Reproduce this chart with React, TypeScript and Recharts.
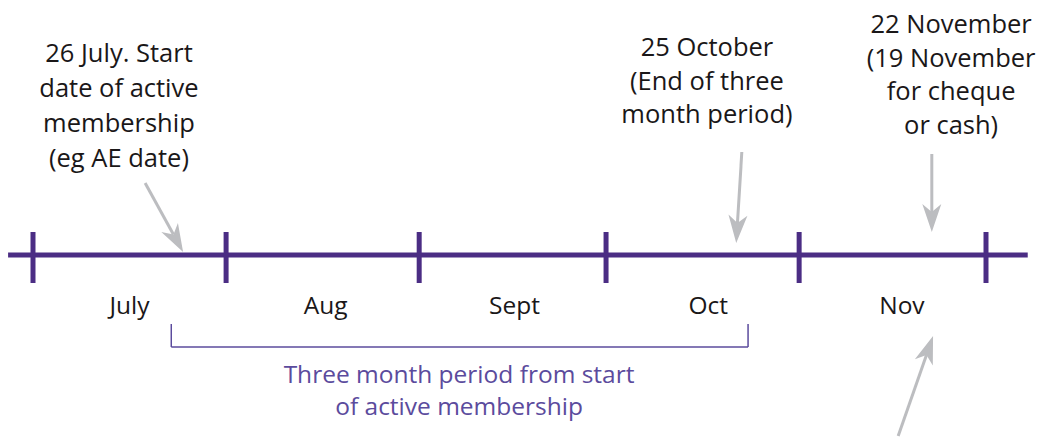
import React from 'react';
import { ComposedChart, XAxis, YAxis, ReferenceLine, Scatter } from 'recharts';

// Horizontal axis: days since 1 July. Vertical axis: layout rows (top = 0).
const monthStartDays = [0, 31, 62, 92, 123, 153];
const monthNames = ['July', 'Aug', 'Sept', 'Oct', 'Nov'];
const monthLabelDays = [15.5, 47, 77.3, 108.4, 139.5];
const timelineSpan = [-4, 159.7];

// annotations (text centre day, first line row, lines)
const noteDays = [13.8, 108.2, 147.4];
const noteRows = [52, 46, 23];
const noteLines = [
  ['26 July. Start', 'date of active', 'membership', '(eg AE date)'],
  ['25 October', '(End of three', 'month period)'],
  ['22 November', '(19 November', 'for cheque', 'or cash)'],
];
const noteLineGap = [35, 33.5, 33.5];

// arrows: [fromDay, fromRow, toDay, toRow]
const arrowFromDays = [18.0, 113.8, 144.3, 138.9];
const arrowFromRows = [183, 152, 154, 436];
const arrowToDays = [24.1, 112.9, 144.3, 144.5];
const arrowToRows = [252, 243, 232, 336];

// three month bracket
const bracketDays = [22.2, 114.8];
const bracketRows = [324, 347];
const periodTextDay = 68.4;
const periodLines = ['Three month period from start', 'of active membership'];
const periodRows = [373, 405];

const timelineRow = 255;
const tickRows = [232, 283];
const monthLabelRow = 304;

const W = 1039;
const H = 437;
const PX_PER_DAY = (986 - 33) / 153;
const xDomain: [number, number] = [-33 / PX_PER_DAY, (W - 33) / PX_PER_DAY];

const PURPLE = '#4b2d84';
const GREY = '#bcbdc0';
const TEXT = '#1a1718';
const LIGHT_PURPLE = '#5b4b9d';
const FONT = '"Open Sans", Lato, sans-serif';

const ArrowShape = (props: any) => {
  const { x1, y1, x2, y2 } = props;
  const dx = x2 - x1;
  const dy = y2 - y1;
  const len = Math.sqrt(dx * dx + dy * dy);
  const ux = dx / len;
  const uy = dy / len;
  const px = -uy;
  const py = ux;
  const headLen = 28;
  const headHalf = 9.5;
  const notch = 8;
  const bx = x2 - ux * headLen;
  const by = y2 - uy * headLen;
  const nx = x2 - ux * (headLen - notch);
  const ny = y2 - uy * (headLen - notch);
  const pts = [
    [x2, y2],
    [bx + px * headHalf, by + py * headHalf],
    [nx, ny],
    [bx - px * headHalf, by - py * headHalf],
  ]
    .map((p) => p.join(','))
    .join(' ');
  return (
    <g>
      <line x1={x1} y1={y1} x2={nx} y2={ny} stroke={GREY} strokeWidth={3} />
      <polygon points={pts} fill={GREY} />
    </g>
  );
};

const makeTextShape = (size: number, weight: number, color: string) => (props: any) => {
  const { cx, cy, payload } = props;
  return (
    <text
      x={cx}
      y={cy}
      textAnchor="middle"
      dominantBaseline="central"
      fontFamily={FONT}
      fontSize={size}
      fontWeight={weight}
      fill={color}
    >
      {payload.label}
    </text>
  );
};

const noteTextData = noteLines.flatMap((lines, i) =>
  lines.map((label, j) => ({ x: noteDays[i], y: noteRows[i] + j * noteLineGap[i], label }))
);
const monthTextData = monthNames.map((label, i) => ({ x: monthLabelDays[i], y: monthLabelRow, label }));
const periodTextData = periodLines.map((label, i) => ({ x: periodTextDay, y: periodRows[i], label }));

export default function App() {
  return (
    <div style={{ position: 'absolute', left: 0, top: 0, width: W, height: H, background: '#fff' }}>
      <ComposedChart width={W} height={H} margin={{ top: 0, right: 0, bottom: 0, left: 0 }} data={[]}>
        <XAxis type="number" dataKey="x" domain={xDomain} hide allowDataOverflow />
        <YAxis type="number" dataKey="y" domain={[0, H]} reversed hide allowDataOverflow />

        {/* bracket */}
        <ReferenceLine
          segment={[{ x: bracketDays[0], y: bracketRows[0] }, { x: bracketDays[0], y: bracketRows[1] }]}
          stroke={LIGHT_PURPLE}
          strokeWidth={1.5}
          ifOverflow="visible"
        />
        <ReferenceLine
          segment={[{ x: bracketDays[0], y: bracketRows[1] }, { x: bracketDays[1], y: bracketRows[1] }]}
          stroke={LIGHT_PURPLE}
          strokeWidth={1.5}
          ifOverflow="visible"
        />
        <ReferenceLine
          segment={[{ x: bracketDays[1], y: bracketRows[1] }, { x: bracketDays[1], y: bracketRows[0] }]}
          stroke={LIGHT_PURPLE}
          strokeWidth={1.5}
          ifOverflow="visible"
        />

        {/* timeline */}
        <ReferenceLine
          segment={[{ x: timelineSpan[0], y: timelineRow }, { x: timelineSpan[1], y: timelineRow }]}
          stroke={PURPLE}
          strokeWidth={5}
          ifOverflow="visible"
        />
        {monthStartDays.map((d, i) => (
          <ReferenceLine
            key={'t' + i}
            segment={[{ x: d, y: tickRows[0] }, { x: d, y: tickRows[1] }]}
            stroke={PURPLE}
            strokeWidth={5}
            ifOverflow="visible"
          />
        ))}

        {/* arrows */}
        {arrowFromDays.map((d, i) => (
          <ReferenceLine
            key={'a' + i}
            segment={[{ x: d, y: arrowFromRows[i] }, { x: arrowToDays[i], y: arrowToRows[i] }]}
            ifOverflow="visible"
            shape={ArrowShape}
          />
        ))}

        <Scatter data={noteTextData} isAnimationActive={false} shape={makeTextShape(25.5, 500, TEXT)} />
        <Scatter data={monthTextData} isAnimationActive={false} shape={makeTextShape(24.5, 400, TEXT)} />
        <Scatter data={periodTextData} isAnimationActive={false} shape={makeTextShape(24.5, 400, LIGHT_PURPLE)} />
      </ComposedChart>
    </div>
  );
}
